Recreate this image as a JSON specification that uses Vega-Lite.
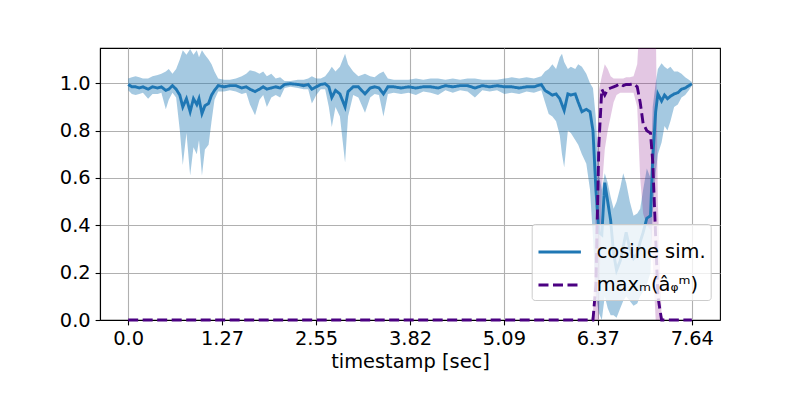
{
  "$schema": "https://vega.github.io/schema/vega-lite/v6.json",
  "width": 620,
  "height": 272,
  "autosize": {"type": "none"},
  "padding": {"left": 100, "top": 48, "right": 80, "bottom": 80},
  "background": "white",
  "config": {
    "font": "DejaVu Sans",
    "view": {"stroke": "black", "strokeWidth": 1.1},
    "axis": {
      "labelFontSize": 19.4, "labelColor": "black", "labelFont": "DejaVu Sans",
      "tickColor": "black", "tickSize": 4.9, "tickWidth": 1.1, "labelPadding": 4.9,
      "domainColor": "black", "domainWidth": 1.1,
      "gridColor": "#b0b0b0", "gridWidth": 1.1,
      "titleFontSize": 19.4, "titleFontWeight": "normal", "titleColor": "black", "titleFont": "DejaVu Sans"
    }
  },
  "data": {"values": [
    {"t":0.00,"c":0.995,"cl":0.97,"ch":1.02,"a":0,"al":0,"ah":0},
    {"t":0.05,"c":0.985,"cl":0.955,"ch":1.025,"a":0,"al":0,"ah":0},
    {"t":0.10,"c":0.985,"cl":0.95,"ch":1.03,"a":0,"al":0,"ah":0},
    {"t":0.15,"c":0.98,"cl":0.955,"ch":1.025,"a":0,"al":0,"ah":0},
    {"t":0.20,"c":0.985,"cl":0.96,"ch":1.02,"a":0,"al":0,"ah":0},
    {"t":0.27,"c":0.975,"cl":0.935,"ch":1.02,"a":0,"al":0,"ah":0},
    {"t":0.33,"c":0.985,"cl":0.955,"ch":1.03,"a":0,"al":0,"ah":0},
    {"t":0.40,"c":0.98,"cl":0.955,"ch":1.035,"a":0,"al":0,"ah":0},
    {"t":0.45,"c":0.985,"cl":0.96,"ch":1.04,"a":0,"al":0,"ah":0},
    {"t":0.51,"c":0.97,"cl":0.89,"ch":1.05,"a":0,"al":0,"ah":0},
    {"t":0.55,"c":0.975,"cl":0.93,"ch":1.06,"a":0,"al":0,"ah":0},
    {"t":0.60,"c":0.99,"cl":0.96,"ch":1.04,"a":0,"al":0,"ah":0},
    {"t":0.65,"c":0.975,"cl":0.94,"ch":1.06,"a":0,"al":0,"ah":0},
    {"t":0.70,"c":0.95,"cl":0.80,"ch":1.10,"a":0,"al":0,"ah":0},
    {"t":0.74,"c":0.90,"cl":0.655,"ch":1.14,"a":0,"al":0,"ah":0},
    {"t":0.79,"c":0.935,"cl":0.79,"ch":1.12,"a":0,"al":0,"ah":0},
    {"t":0.84,"c":0.88,"cl":0.61,"ch":1.145,"a":0,"al":0,"ah":0},
    {"t":0.885,"c":0.935,"cl":0.73,"ch":1.12,"a":0,"al":0,"ah":0},
    {"t":0.93,"c":0.91,"cl":0.70,"ch":1.14,"a":0,"al":0,"ah":0},
    {"t":0.96,"c":0.935,"cl":0.76,"ch":1.11,"a":0,"al":0,"ah":0},
    {"t":1.00,"c":0.872,"cl":0.61,"ch":1.14,"a":0,"al":0,"ah":0},
    {"t":1.04,"c":0.905,"cl":0.72,"ch":1.12,"a":0,"al":0,"ah":0},
    {"t":1.09,"c":0.915,"cl":0.74,"ch":1.10,"a":0,"al":0,"ah":0},
    {"t":1.13,"c":0.95,"cl":0.84,"ch":1.08,"a":0,"al":0,"ah":0},
    {"t":1.17,"c":0.97,"cl":0.93,"ch":1.05,"a":0,"al":0,"ah":0},
    {"t":1.22,"c":0.99,"cl":0.965,"ch":1.02,"a":0,"al":0,"ah":0},
    {"t":1.30,"c":0.985,"cl":0.965,"ch":1.015,"a":0,"al":0,"ah":0},
    {"t":1.38,"c":0.99,"cl":0.97,"ch":1.015,"a":0,"al":0,"ah":0},
    {"t":1.46,"c":0.99,"cl":0.965,"ch":1.02,"a":0,"al":0,"ah":0},
    {"t":1.54,"c":0.98,"cl":0.955,"ch":1.03,"a":0,"al":0,"ah":0},
    {"t":1.60,"c":0.985,"cl":0.96,"ch":1.04,"a":0,"al":0,"ah":0},
    {"t":1.65,"c":0.975,"cl":0.91,"ch":1.055,"a":0,"al":0,"ah":0},
    {"t":1.72,"c":0.965,"cl":0.865,"ch":1.05,"a":0,"al":0,"ah":0},
    {"t":1.78,"c":0.975,"cl":0.93,"ch":1.04,"a":0,"al":0,"ah":0},
    {"t":1.83,"c":0.985,"cl":0.95,"ch":1.05,"a":0,"al":0,"ah":0},
    {"t":1.88,"c":0.975,"cl":0.90,"ch":1.03,"a":0,"al":0,"ah":0},
    {"t":1.94,"c":0.98,"cl":0.94,"ch":1.04,"a":0,"al":0,"ah":0},
    {"t":2.00,"c":0.985,"cl":0.95,"ch":1.02,"a":0,"al":0,"ah":0},
    {"t":2.06,"c":0.98,"cl":0.94,"ch":1.025,"a":0,"al":0,"ah":0},
    {"t":2.12,"c":0.995,"cl":0.98,"ch":1.01,"a":0,"al":0,"ah":0},
    {"t":2.20,"c":0.998,"cl":0.985,"ch":1.01,"a":0,"al":0,"ah":0},
    {"t":2.30,"c":0.995,"cl":0.98,"ch":1.015,"a":0,"al":0,"ah":0},
    {"t":2.38,"c":0.99,"cl":0.975,"ch":1.015,"a":0,"al":0,"ah":0},
    {"t":2.44,"c":0.995,"cl":0.975,"ch":1.02,"a":0,"al":0,"ah":0},
    {"t":2.49,"c":0.975,"cl":0.915,"ch":1.03,"a":0,"al":0,"ah":0},
    {"t":2.55,"c":0.985,"cl":0.95,"ch":1.02,"a":0,"al":0,"ah":0},
    {"t":2.61,"c":0.995,"cl":0.975,"ch":1.02,"a":0,"al":0,"ah":0},
    {"t":2.67,"c":0.998,"cl":0.975,"ch":1.03,"a":0,"al":0,"ah":0},
    {"t":2.72,"c":0.985,"cl":0.90,"ch":1.05,"a":0,"al":0,"ah":0},
    {"t":2.76,"c":0.94,"cl":0.815,"ch":1.07,"a":0,"al":0,"ah":0},
    {"t":2.81,"c":0.97,"cl":0.90,"ch":1.05,"a":0,"al":0,"ah":0},
    {"t":2.87,"c":0.955,"cl":0.86,"ch":1.07,"a":0,"al":0,"ah":0},
    {"t":2.94,"c":0.90,"cl":0.665,"ch":1.125,"a":0,"al":0,"ah":0},
    {"t":2.98,"c":0.965,"cl":0.86,"ch":1.08,"a":0,"al":0,"ah":0},
    {"t":3.05,"c":0.985,"cl":0.95,"ch":1.05,"a":0,"al":0,"ah":0},
    {"t":3.12,"c":0.985,"cl":0.94,"ch":1.03,"a":0,"al":0,"ah":0},
    {"t":3.21,"c":0.955,"cl":0.875,"ch":1.04,"a":0,"al":0,"ah":0},
    {"t":3.28,"c":0.98,"cl":0.94,"ch":1.03,"a":0,"al":0,"ah":0},
    {"t":3.34,"c":0.985,"cl":0.955,"ch":1.025,"a":0,"al":0,"ah":0},
    {"t":3.40,"c":0.98,"cl":0.95,"ch":1.04,"a":0,"al":0,"ah":0},
    {"t":3.46,"c":0.955,"cl":0.86,"ch":1.05,"a":0,"al":0,"ah":0},
    {"t":3.52,"c":0.985,"cl":0.955,"ch":1.02,"a":0,"al":0,"ah":0},
    {"t":3.60,"c":0.985,"cl":0.96,"ch":1.015,"a":0,"al":0,"ah":0},
    {"t":3.70,"c":0.98,"cl":0.955,"ch":1.015,"a":0,"al":0,"ah":0},
    {"t":3.80,"c":0.985,"cl":0.96,"ch":1.015,"a":0,"al":0,"ah":0},
    {"t":3.90,"c":0.98,"cl":0.95,"ch":1.02,"a":0,"al":0,"ah":0},
    {"t":4.00,"c":0.985,"cl":0.965,"ch":1.015,"a":0,"al":0,"ah":0},
    {"t":4.10,"c":0.985,"cl":0.96,"ch":1.02,"a":0,"al":0,"ah":0},
    {"t":4.20,"c":0.98,"cl":0.95,"ch":1.02,"a":0,"al":0,"ah":0},
    {"t":4.30,"c":0.99,"cl":0.97,"ch":1.015,"a":0,"al":0,"ah":0},
    {"t":4.40,"c":0.985,"cl":0.96,"ch":1.02,"a":0,"al":0,"ah":0},
    {"t":4.50,"c":0.99,"cl":0.97,"ch":1.015,"a":0,"al":0,"ah":0},
    {"t":4.60,"c":0.99,"cl":0.965,"ch":1.02,"a":0,"al":0,"ah":0},
    {"t":4.70,"c":0.98,"cl":0.94,"ch":1.02,"a":0,"al":0,"ah":0},
    {"t":4.80,"c":0.99,"cl":0.97,"ch":1.015,"a":0,"al":0,"ah":0},
    {"t":4.90,"c":0.985,"cl":0.965,"ch":1.015,"a":0,"al":0,"ah":0},
    {"t":5.00,"c":0.99,"cl":0.97,"ch":1.015,"a":0,"al":0,"ah":0},
    {"t":5.10,"c":0.985,"cl":0.955,"ch":1.02,"a":0,"al":0,"ah":0},
    {"t":5.20,"c":0.985,"cl":0.96,"ch":1.025,"a":0,"al":0,"ah":0},
    {"t":5.30,"c":0.98,"cl":0.955,"ch":1.02,"a":0,"al":0,"ah":0},
    {"t":5.40,"c":0.985,"cl":0.965,"ch":1.025,"a":0,"al":0,"ah":0},
    {"t":5.50,"c":0.985,"cl":0.96,"ch":1.02,"a":0,"al":0,"ah":0},
    {"t":5.60,"c":0.995,"cl":0.97,"ch":1.03,"a":0,"al":0,"ah":0},
    {"t":5.65,"c":0.97,"cl":0.92,"ch":1.05,"a":0,"al":0,"ah":0},
    {"t":5.70,"c":0.96,"cl":0.87,"ch":1.06,"a":0,"al":0,"ah":0},
    {"t":5.75,"c":0.95,"cl":0.86,"ch":1.08,"a":0,"al":0,"ah":0},
    {"t":5.80,"c":0.955,"cl":0.84,"ch":1.06,"a":0,"al":0,"ah":0},
    {"t":5.85,"c":0.935,"cl":0.78,"ch":1.11,"a":0,"al":0,"ah":0},
    {"t":5.88,"c":0.91,"cl":0.70,"ch":1.125,"a":0,"al":0,"ah":0},
    {"t":5.91,"c":0.885,"cl":0.645,"ch":1.09,"a":0,"al":0,"ah":0},
    {"t":5.96,"c":0.955,"cl":0.80,"ch":1.06,"a":0,"al":0,"ah":0},
    {"t":6.00,"c":0.95,"cl":0.79,"ch":1.07,"a":0,"al":0,"ah":0},
    {"t":6.06,"c":0.955,"cl":0.76,"ch":1.06,"a":0,"al":0,"ah":0},
    {"t":6.10,"c":0.92,"cl":0.74,"ch":1.08,"a":0,"al":0,"ah":0},
    {"t":6.15,"c":0.88,"cl":0.70,"ch":1.07,"a":0,"al":0,"ah":0},
    {"t":6.21,"c":0.89,"cl":0.66,"ch":1.04,"a":0,"al":0,"ah":0},
    {"t":6.26,"c":0.88,"cl":0.55,"ch":1.0,"a":0,"al":0,"ah":0},
    {"t":6.30,"c":0.80,"cl":0.35,"ch":0.98,"a":0,"al":0,"ah":0.02},
    {"t":6.34,"c":0.55,"cl":0.10,"ch":0.85,"a":0.15,"al":0,"ah":0.5},
    {"t":6.38,"c":0.37,"cl":0.03,"ch":0.62,"a":0.74,"al":0,"ah":0.97},
    {"t":6.42,"c":0.36,"cl":0.0,"ch":0.55,"a":0.975,"al":0.55,"ah":1.03},
    {"t":6.46,"c":0.58,"cl":0.10,"ch":0.62,"a":0.95,"al":0.72,"ah":1.08},
    {"t":6.50,"c":0.50,"cl":0.05,"ch":0.58,"a":0.975,"al":0.80,"ah":1.06},
    {"t":6.54,"c":0.42,"cl":0.02,"ch":0.52,"a":0.98,"al":0.86,"ah":1.03},
    {"t":6.58,"c":0.28,"cl":0.02,"ch":0.47,"a":0.985,"al":0.92,"ah":1.02},
    {"t":6.62,"c":0.21,"cl":0.01,"ch":0.50,"a":0.99,"al":0.95,"ah":1.02},
    {"t":6.67,"c":0.25,"cl":0.05,"ch":0.56,"a":0.998,"al":0.96,"ah":1.02},
    {"t":6.71,"c":0.31,"cl":0.08,"ch":0.62,"a":0.99,"al":0.96,"ah":1.02},
    {"t":6.75,"c":0.37,"cl":0.10,"ch":0.58,"a":0.995,"al":0.96,"ah":1.025},
    {"t":6.80,"c":0.30,"cl":0.08,"ch":0.50,"a":0.995,"al":0.96,"ah":1.025},
    {"t":6.85,"c":0.26,"cl":0.06,"ch":0.44,"a":0.998,"al":0.96,"ah":1.03},
    {"t":6.90,"c":0.28,"cl":0.07,"ch":0.45,"a":0.985,"al":0.90,"ah":1.08},
    {"t":6.94,"c":0.33,"cl":0.10,"ch":0.47,"a":0.92,"al":0.60,"ah":1.3},
    {"t":6.98,"c":0.37,"cl":0.12,"ch":0.55,"a":0.83,"al":0.45,"ah":1.3},
    {"t":7.03,"c":0.43,"cl":0.15,"ch":0.64,"a":0.80,"al":0.40,"ah":1.3},
    {"t":7.08,"c":0.44,"cl":0.20,"ch":0.60,"a":0.79,"al":0.38,"ah":1.3},
    {"t":7.11,"c":0.68,"cl":0.45,"ch":0.90,"a":0.67,"al":0.25,"ah":1.3},
    {"t":7.15,"c":0.88,"cl":0.62,"ch":1.0,"a":0.35,"al":0.0,"ah":1.3},
    {"t":7.18,"c":0.955,"cl":0.70,"ch":1.06,"a":0.10,"al":0,"ah":0.5},
    {"t":7.23,"c":0.925,"cl":0.75,"ch":1.085,"a":0,"al":0,"ah":0.02},
    {"t":7.27,"c":0.95,"cl":0.82,"ch":1.07,"a":0,"al":0,"ah":0},
    {"t":7.31,"c":0.935,"cl":0.80,"ch":1.06,"a":0,"al":0,"ah":0},
    {"t":7.35,"c":0.945,"cl":0.84,"ch":1.07,"a":0,"al":0,"ah":0},
    {"t":7.40,"c":0.955,"cl":0.90,"ch":1.05,"a":0,"al":0,"ah":0},
    {"t":7.45,"c":0.96,"cl":0.91,"ch":1.05,"a":0,"al":0,"ah":0},
    {"t":7.50,"c":0.975,"cl":0.94,"ch":1.04,"a":0,"al":0,"ah":0},
    {"t":7.55,"c":0.98,"cl":0.95,"ch":1.025,"a":0,"al":0,"ah":0},
    {"t":7.60,"c":0.99,"cl":0.97,"ch":1.015,"a":0,"al":0,"ah":0},
    {"t":7.64,"c":0.998,"cl":0.99,"ch":1.005,"a":0,"al":0,"ah":0}
  ]},
  "encoding": {
    "x": {
      "field": "t", "type": "quantitative",
      "scale": {"domain": [-0.382, 8.022], "nice": false, "zero": false},
      "axis": {
        "title": "timestamp [sec]",
        "values": [0, 1.27333, 2.54667, 3.82, 5.09333, 6.36667, 7.64],
        "labelExpr": "datum.value == 0 ? '0.0' : format(datum.value, '.2f')",
        "labelOverlap": false, "labelFlush": false, "titlePadding": 4
      }
    }
  },
  "layer": [
    {
      "mark": {"type": "area", "color": "#1f77b4", "opacity": 0.4, "clip": true},
      "encoding": {
        "y": {"field": "cl", "type": "quantitative",
          "scale": {"domain": [0, 1.149], "nice": false},
          "axis": {"title": null, "values": [0, 0.2, 0.4, 0.6, 0.8, 1.0], "format": ".1f", "labelFlush": false}},
        "y2": {"field": "ch"}
      }
    },
    {
      "mark": {"type": "area", "color": "#800080", "opacity": 0.22, "clip": true},
      "encoding": {
        "y": {"field": "al", "type": "quantitative"},
        "y2": {"field": "ah"}
      }
    },
    {
      "transform": [{"fold": ["c", "a"], "as": ["key", "val"]}],
      "mark": {"type": "line", "strokeWidth": 2.9},
      "encoding": {
        "y": {"field": "val", "type": "quantitative"},
        "color": {
          "field": "key", "type": "nominal",
          "scale": {"domain": ["c", "a"], "range": ["#1f77b4", "#4b0082"]},
          "legend": {
            "title": null, "orient": "none", "legendX": 431.7, "legendY": 176,
            "fillColor": "rgba(255,255,255,0.8)", "strokeColor": "#cccccc", "cornerRadius": 3,
            "padding": 5, "rowPadding": -9, "symbolType": "stroke", "symbolSize": 1800,
            "symbolStrokeWidth": 2.8, "labelFontSize": 19.4, "labelFont": "DejaVu Sans",
            "labelColor": "black", "labelOffset": 14, "labelLimit": 300,
            "labelExpr": "datum.label == 'c' ? 'cosine sim.' : 'maxₘ(âᵩᵐ)'"
          }
        },
        "strokeDash": {
          "field": "key", "type": "nominal",
          "scale": {"domain": ["c", "a"], "range": [[1, 0], [10, 4.5]]},
          "legend": {
            "title": null, "orient": "none", "legendX": 431.7, "legendY": 176,
            "fillColor": "rgba(255,255,255,0.8)", "strokeColor": "#cccccc", "cornerRadius": 3,
            "padding": 5, "rowPadding": -9, "symbolType": "stroke", "symbolSize": 1800,
            "symbolStrokeWidth": 2.8, "labelFontSize": 19.4, "labelFont": "DejaVu Sans",
            "labelColor": "black", "labelOffset": 14, "labelLimit": 300,
            "labelExpr": "datum.label == 'c' ? 'cosine sim.' : 'maxₘ(âᵩᵐ)'"
          }
        }
      }
    }
  ]
}
